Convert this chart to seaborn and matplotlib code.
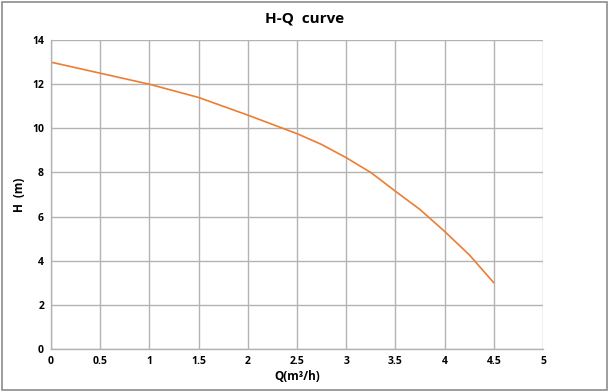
import matplotlib
matplotlib.use("Agg")
import matplotlib.pyplot as plt
import seaborn as sns
import pandas as pd
from matplotlib.patches import Rectangle

# dati
q_values = [0, 0.5, 1.0, 1.5, 2.0, 2.5, 2.75, 3.0, 3.25, 3.5, 3.75, 4.0, 4.25, 4.5]
h_values = [13.0, 12.5, 12.0, 11.4, 10.6, 9.76, 9.27, 8.67, 8.0, 7.15, 6.32, 5.33, 4.27, 3.0]
x_ticks = [0, 0.5, 1, 1.5, 2, 2.5, 3, 3.5, 4, 4.5, 5]
x_tick_labels = ["0", "0.5", "1", "1.5", "2", "2.5", "3", "3.5", "4", "4.5", "5"]
y_ticks = [0, 2, 4, 6, 8, 10, 12, 14]

df = pd.DataFrame({"Q": q_values, "H": h_values})

sns.set_style("white")
plt.rcParams["font.family"] = ["Open Sans", "DejaVu Sans"]
plt.rcParams["text.color"] = "black"
plt.rcParams["axes.labelcolor"] = "black"
plt.rcParams["xtick.labelcolor"] = "black"
plt.rcParams["ytick.labelcolor"] = "black"

fig = plt.figure(figsize=(6.09, 3.92), dpi=100)
ax = fig.add_axes([0.0837, 0.1097, 0.808, 0.788])

sns.lineplot(data=df, x="Q", y="H", color="#ed7d31", linewidth=1.2, ax=ax)

ax.set_xlim(0, 5)
ax.set_ylim(0, 14)
ax.set_xticks(x_ticks)
ax.set_xticklabels(x_tick_labels)
ax.set_yticks(y_ticks)
ax.grid(True, color="#b3b3b3", linewidth=1.0)
for s in ["top", "right"]:
    ax.spines[s].set_visible(False)
for s in ["left", "bottom"]:
    ax.spines[s].set_color("#b3b3b3")
    ax.spines[s].set_linewidth(1.0)
ax.tick_params(axis="both", length=3, width=1, color="#b3b3b3", labelsize=7.5, pad=2)
for lab in ax.get_xticklabels() + ax.get_yticklabels():
    lab.set_fontweight("bold")

ax.set_xlabel("Q(m³/h)", fontsize=8.5, fontweight="bold", labelpad=2)
ax.set_ylabel("H  (m)", fontsize=8.5, fontweight="bold", labelpad=4)
fig.suptitle("H-Q  curve", fontsize=11, fontweight="bold", y=0.97)

# cornice esterna
fig.patches.append(Rectangle((0.004, 0.006), 0.992, 0.988, transform=fig.transFigure,
                             fill=False, edgecolor="#8c8c8c", linewidth=1.2))

fig.savefig("out.png", dpi=100)
